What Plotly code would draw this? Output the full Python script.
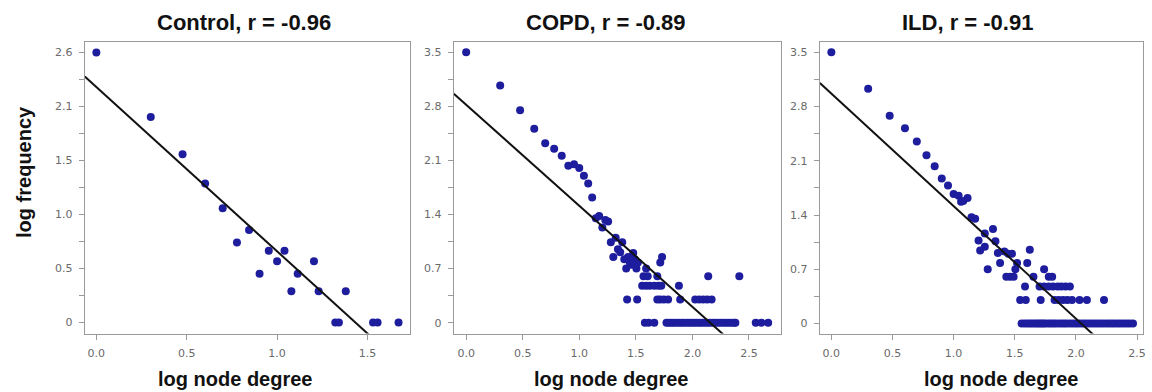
import plotly.graph_objects as go

W, H = 1152, 392

# ---------------- data (log10 node degree, log10 frequency) ----------------
ctrl_x = [0.000, 0.301, 0.477, 0.602, 0.699, 0.778, 0.845, 0.903, 0.954, 1.000,
          1.041, 1.079, 1.114, 1.204, 1.230, 1.322, 1.342, 1.380, 1.531, 1.556, 1.672]
ctrl_y = [2.60, 1.98, 1.62, 1.34, 1.10, 0.77, 0.89, 0.47, 0.69, 0.59,
          0.69, 0.30, 0.47, 0.59, 0.30, 0.00, 0.00, 0.30, 0.00, 0.00, 0.00]

copd_x = [0.000, 0.301, 0.477, 0.602, 0.699, 0.778, 0.845, 0.903, 0.954, 1.000,
          1.041, 1.079, 1.114, 1.146, 1.176, 1.204, 1.230, 1.255, 1.279, 1.301,
          1.322, 1.342, 1.362, 1.380, 1.398, 1.415, 1.431, 1.447, 1.462, 1.477,
          1.491, 1.505, 1.519, 1.591, 1.716, 1.732]
copd_y = [3.50, 3.07, 2.75, 2.51, 2.32, 2.25, 2.16, 2.03, 2.05, 2.00,
          1.90, 1.80, 1.62, 1.35, 1.38, 1.23, 1.33, 1.31, 1.04, 0.85,
          1.10, 0.95, 0.91, 1.04, 0.82, 0.70, 0.85, 0.78, 0.75, 0.90,
          0.82, 0.70, 0.78, 0.70, 0.78, 0.85]
# degrees that share the same low frequency (rows of points)
copd_row060_x = [1.568, 1.605, 1.690, 2.140, 2.415]
copd_row048_x = [1.556, 1.591, 1.623, 1.663, 1.699, 1.725, 1.881]
copd_row030_x = [1.423, 1.512, 1.690, 1.716, 1.748, 1.785, 1.892, 2.025, 2.060,
                 2.095, 2.130, 2.170]
copd_row000_x = [1.580, 1.613, 1.663, 1.771, 1.792, 1.813, 1.833, 1.857, 1.881,
                 1.903, 1.924, 1.949, 1.973, 1.996, 2.017, 2.041, 2.064, 2.086,
                 2.111, 2.134, 2.158, 2.182, 2.204, 2.228, 2.253, 2.276, 2.299,
                 2.322, 2.346, 2.369, 2.380, 2.560, 2.610, 2.670]

ild_x = [0.000, 0.301, 0.477, 0.602, 0.699, 0.778, 0.845, 0.903, 0.954, 1.000,
         1.041, 1.061, 1.079, 1.114, 1.146, 1.176, 1.204, 1.217, 1.255, 1.255,
         1.279, 1.322, 1.342, 1.362, 1.380, 1.415, 1.447, 1.477, 1.505, 1.519,
         1.602, 1.623, 1.740]
ild_y = [3.50, 3.03, 2.68, 2.52, 2.35, 2.17, 2.03, 1.87, 1.78, 1.67,
         1.65, 1.57, 1.58, 1.62, 1.37, 1.35, 1.07, 0.94, 0.99, 1.16,
         0.70, 1.22, 1.06, 0.91, 0.78, 0.93, 0.90, 0.90, 0.70, 0.78,
         0.78, 0.95, 0.70]
ild_row060_x = [1.431, 1.462, 1.491, 1.653, 1.778, 1.806]
ild_row048_x = [1.584, 1.703, 1.740, 1.778, 1.813, 1.851, 1.881, 1.915, 1.951]
ild_row030_x = [1.544, 1.590, 1.712, 1.826, 1.860, 1.895, 1.930, 1.968, 2.030,
                2.090, 2.230]
ild_row000_x = [1.556, 1.580, 1.602, 1.623, 1.643, 1.663, 1.681, 1.699, 1.716,
                1.732, 1.748, 1.771, 1.792, 1.813, 1.833, 1.857, 1.881, 1.903,
                1.924, 1.949, 1.973, 1.996, 2.017, 2.041, 2.064, 2.086, 2.111,
                2.134, 2.158, 2.182, 2.204, 2.228, 2.253, 2.276, 2.299, 2.322,
                2.346, 2.369, 2.394, 2.417, 2.441, 2.467]

row_levels = {"060": 0.602, "048": 0.477, "030": 0.301, "000": 0.0}

# regression fits (intercept, slope) and correlation coefficients
fit_intercept = [2.269, 2.821, 2.968]
fit_slope = [-1.583, -1.308, -1.453]
group_names = ["Control", "COPD", "ILD"]
r_values = ["-0.96", "-0.89", "-0.91"]

# axis ticks
ctrl_ytick_vals = [0, 0.52, 1.04, 1.56, 2.08, 2.6]
ctrl_ytick_text = ["0", "0.5", "1.0", "1.5", "2.1", "2.6"]
ctrl_yminor = [0.26, 0.78, 1.30, 1.82, 2.34]
dis_ytick_vals = [0, 0.7, 1.4, 2.1, 2.8, 3.5]
dis_ytick_text = ["0", "0.7", "1.4", "2.1", "2.8", "3.5"]
dis_yminor = [0.35, 1.05, 1.75, 2.45, 3.15]
ctrl_xtick_vals = [0, 0.5, 1.0, 1.5]
dis_xtick_vals = [0, 0.5, 1.0, 1.5, 2.0, 2.5]


def assemble(x, y, rows):
    xs, ys = list(x), list(y)
    for key, vals in rows.items():
        xs += vals
        ys += [row_levels[key]] * len(vals)
    return xs, ys


panels = [
    assemble(ctrl_x, ctrl_y, {}),
    assemble(copd_x, copd_y, {"060": copd_row060_x, "048": copd_row048_x,
                              "030": copd_row030_x, "000": copd_row000_x}),
    assemble(ild_x, ild_y, {"060": ild_row060_x, "048": ild_row048_x,
                            "030": ild_row030_x, "000": ild_row000_x}),
]

# ---------------- layout geometry (pixels) ----------------
x_px = [(85, 411), (455, 783), (822, 1146)]
y_px = (41.5, 333.5)
x_ranges = [[-0.064, 1.735], [-0.109, 2.783], [-0.094, 2.549]]
y_ranges = [[-0.106, 2.707], [-0.14, 3.638], [-0.13, 3.64]]

fig = go.Figure()
MARK = "#1d1d9e"
AX = "#9a9a9a"
TICKFONT = dict(family="DejaVu Sans", size=11, color="#6a6a6a")

for i, (px, py) in enumerate(panels):
    sx = "" if i == 0 else str(i + 1)
    fig.add_trace(go.Scatter(
        x=px, y=py, mode="markers", xaxis="x" + sx, yaxis="y" + sx,
        marker=dict(size=8, color=MARK, line=dict(width=0)),
        showlegend=False, hoverinfo="skip"))
    lx = x_ranges[i]
    ly = [fit_intercept[i] + fit_slope[i] * v for v in lx]
    fig.add_trace(go.Scatter(
        x=lx, y=ly, mode="lines", xaxis="x" + sx, yaxis="y" + sx,
        line=dict(color="#111111", width=2), showlegend=False, hoverinfo="skip"))

    xd = [x_px[i][0] / W, x_px[i][1] / W]
    yd = [1 - y_px[1] / H, 1 - y_px[0] / H]
    if i == 0:
        ytv, ytt, ymn, xtv = ctrl_ytick_vals, ctrl_ytick_text, ctrl_yminor, ctrl_xtick_vals
    else:
        ytv, ytt, ymn, xtv = dis_ytick_vals, dis_ytick_text, dis_yminor, dis_xtick_vals
    common = dict(showline=True, mirror=True, linecolor=AX, linewidth=1.3,
                  showgrid=False, zeroline=False, ticks="outside", ticklen=5,
                  tickwidth=1, tickcolor=AX, tickfont=TICKFONT, fixedrange=True)
    fig.update_layout(**{
        "xaxis" + sx: dict(domain=xd, range=x_ranges[i], anchor="y" + sx,
                           tickmode="array", tickvals=xtv,
                           ticktext=[f"{v:.1f}" for v in xtv],
                           ticklabelstandoff=4, **common),
        "yaxis" + sx: dict(domain=yd, range=y_ranges[i], anchor="x" + sx,
                           tickmode="array", tickvals=ytv, ticktext=ytt,
                           ticklabelstandoff=4,
                           minor=dict(tickmode="array", tickvals=ymn, ticks="outside",
                                      ticklen=5, tickcolor=AX, tickwidth=1),
                           **common),
    })

TITLEFONT = dict(family="Liberation Sans, Arial, sans-serif", size=22, color="#111111")
LABELFONT = dict(family="Liberation Sans, Arial, sans-serif", size=20, color="#111111")
title_px = [(245, 23), (608, 23), (970, 23)]
xlabel_px = [(236, 379), (613, 379), (1004, 379)]
ann = []
for i in range(3):
    ann.append(dict(text=f"<b>{group_names[i]}, r = {r_values[i]}</b>",
                    x=title_px[i][0] / W, y=1 - title_px[i][1] / H,
                    xref="paper", yref="paper", xanchor="center", yanchor="middle",
                    showarrow=False, font=TITLEFONT))
    ann.append(dict(text="<b>log node degree</b>",
                    x=xlabel_px[i][0] / W, y=1 - xlabel_px[i][1] / H,
                    xref="paper", yref="paper", xanchor="center", yanchor="middle",
                    showarrow=False, font=LABELFONT))
ann.append(dict(text="<b>log frequency</b>", x=24 / W, y=1 - 172 / H,
                xref="paper", yref="paper", xanchor="center", yanchor="middle",
                textangle=-90, showarrow=False, font=LABELFONT))

fig.update_layout(width=W, height=H, margin=dict(l=0, r=0, t=0, b=0),
                  paper_bgcolor="white", plot_bgcolor="white",
                  annotations=ann, showlegend=False)

fig.write_html("out.html")
